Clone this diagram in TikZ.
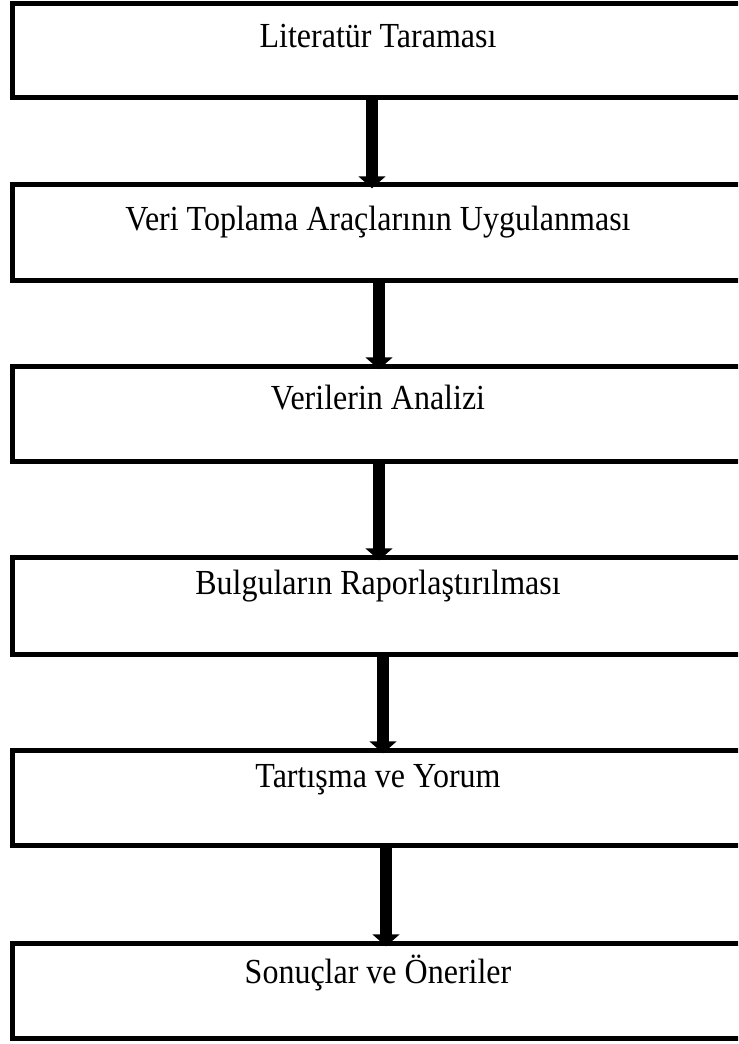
\documentclass[tikz,border=0pt]{standalone}
\usepackage{fontspec}
\setmainfont{Liberation Serif}
\usetikzlibrary{arrows.meta}

\tikzstyle{stage-box}=[draw, line width=3.75pt, inner sep=0pt, outer sep=0pt, minimum width=549pt, anchor=north, font=\fontsize{24}{28}\selectfont]
\tikzstyle{stage-arrow}=[line width=9pt, shorten >=-2.5pt, -{Triangle[width=20pt,length=9pt]}]
\newcommand{\tallword}[1]{\scalebox{1}[1.1]{#1}}

\begin{document}
\begin{tikzpicture}[x=0.75pt, y=-0.75pt]
      \clip (0,0) rectangle (738,1044);
      \node (stage1) at (378, 4)
            [stage-box, text height=33pt, text depth=37.5pt] {\tallword{Literatür Taraması}};
      \node (stage2) at (378, 185)
            [stage-box, text height=34.5pt, text depth=37.5pt] {\tallword{Veri Toplama Araçlarının Uygulanması}};
      \node (stage3) at (378, 366)
            [stage-box, text height=32.25pt, text depth=39pt] {\tallword{Verilerin Analizi}};
      \node (stage4) at (378, 557)
            [stage-box, text height=27.75pt, text depth=45pt] {\tallword{Bulguların Raporlaştırılması}};
      \node (stage5) at (378, 750)
            [stage-box, text height=27.75pt, text depth=43.5pt] {\tallword{Tartışma ve Yorum}};
      \node (stage6) at (378, 943)
            [stage-box, text height=30pt, text depth=41.25pt] {\tallword{Sonuçlar ve Öneriler}};

      \draw[stage-arrow] ([xshift=-4.5pt]stage1.south) -- ([xshift=-4.5pt]stage2.north);
      \draw[stage-arrow] ([xshift=0.75pt]stage2.south) -- ([xshift=0.75pt]stage3.north);
      \draw[stage-arrow] ([xshift=0.75pt]stage3.south) -- ([xshift=0.75pt]stage4.north);
      \draw[stage-arrow] ([xshift=3.75pt]stage4.south) -- ([xshift=3.75pt]stage5.north);
      \draw[stage-arrow] ([xshift=6pt]stage5.south) -- ([xshift=6pt]stage6.north);
    \end{tikzpicture}
\end{document}
